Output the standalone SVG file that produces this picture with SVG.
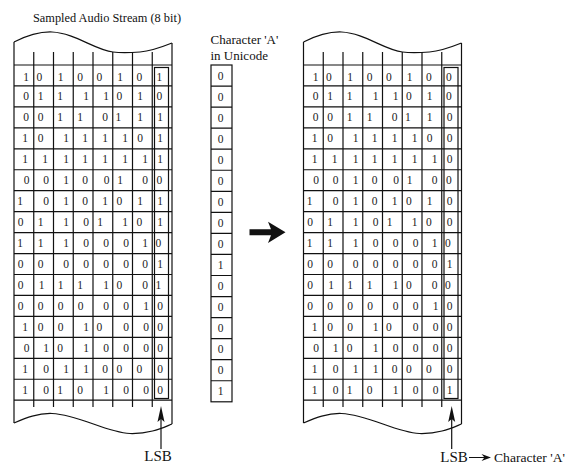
<svg xmlns="http://www.w3.org/2000/svg" xmlns:xlink="http://www.w3.org/1999/xlink" width="566" height="465" viewBox="0 0 566 465">
<style>
.ln{fill:none;stroke:#111;stroke-width:1.2}
.lnt{fill:none;stroke:#111;stroke-width:1}
.d{font-family:"Liberation Serif","Times New Roman",serif;font-size:11.5px;fill:#222;text-anchor:middle}
.lbl{font-family:"Liberation Serif","Times New Roman",serif;font-size:13px;fill:#111}
.big{font-family:"Liberation Serif","Times New Roman",serif;font-size:15px;fill:#111}
.head{fill:#111}
</style>
<defs>
<g id="frame">
<path class="ln" d="M14,42 C26,36 38,31.5 52,32 C75,33 95,50 113,52 C122,53 132,52.5 140,52 C152,51 162,47 172,43"/>
<path class="ln" d="M14,423 C26,418 38,413 52,413.5 C80,415 105,432 130,433.5 C150,434 162,428 172,424"/>
<path class="ln" d="M14,42V423M172,43V424"/>
<path class="ln" d="M33.75,52V407M53.5,52V407M73.25,52V407M93,52V407M112.75,52V407M132.5,52V407M152.25,52V407"/>
<path class="ln" d="M14,65H172M14,85.95H172M14,106.9H172M14,127.85H172M14,148.8H172M14,169.75H172M14,190.7H172M14,211.65H172M14,232.6H172M14,253.55H172M14,274.5H172M14,295.45H172M14,316.4H172M14,337.35H172M14,358.3H172M14,379.25H172M14,400.2H172"/>
<rect class="ln" x="154.5" y="67.5" width="14" height="331"/>
</g>
</defs>

<text class="lbl" x="33" y="22" font-size="12" textLength="148" lengthAdjust="spacingAndGlyphs">Sampled Audio Stream (8 bit)</text>

<g id="audio-stream">
<use xlink:href="#frame"/>
<text class="d" y="80.5" x="26 39.3 60.7 80 99.3 120 139.3 159.3">10100101</text>
<text class="d" y="100.45" x="26 40.7 60 86 106 119.3 140 159.3">01111010</text>
<text class="d" y="121.4" x="26 40.7 60 80 105 118.3 140 160">00110111</text>
<text class="d" y="142.35" x="25 40.7 66 85 105 125 140 160">10111101</text>
<text class="d" y="163.3" x="25 45 66 85 105 125 145 160">11111111</text>
<text class="d" y="184.25" x="26.7 46 66 85 106.7 120 145 159.3">00100100</text>
<text class="d" y="205.2" x="20 46 66 85 105 119.3 140 160">10101011</text>
<text class="d" y="226.15" x="20.7 40.7 66 86 100 125 139.3 160">01101101</text>
<text class="d" y="247.1" x="20 40.7 66 86 106 126 145 158.3">11100010</text>
<text class="d" y="268.05" x="20.7 40.7 66 86 106 126 145 160">00000001</text>
<text class="d" y="289" x="20.7 41.7 60.7 80 106 119.3 145 158.3">01111001</text>
<text class="d" y="309.95" x="20.7 40.7 60.7 80.7 106 126 146 160">00000010</text>
<text class="d" y="330.9" x="25 40.7 60.7 86 99.3 126 146 160">10010000</text>
<text class="d" y="351.85" x="26.7 46 60 86 106 126 146 160">01010000</text>
<text class="d" y="372.8" x="25 46 66 86 105 119.3 139.3 160">10110000</text>
<text class="d" y="393.75" x="25 46 60 80 106 126 146 160">10101000</text>
</g>

<g id="unicode-A">
<text class="lbl" x="210.5" y="43.5">Character 'A'</text>
<text class="lbl" x="210.5" y="59.5">in Unicode</text>
<rect class="ln" x="211" y="65" width="21" height="336.8"/>
<path class="ln" d="M211,86.05H232M211,107.1H232M211,128.15H232M211,149.2H232M211,170.25H232M211,191.3H232M211,212.35H232M211,233.4H232M211,254.45H232M211,275.5H232M211,296.55H232M211,317.6H232M211,338.65H232M211,359.7H232M211,380.75H232"/>
<text class="d" x="220.5" y="79.5">0</text>
<text class="d" x="220.5" y="100.6">0</text>
<text class="d" x="220.5" y="121.6">0</text>
<text class="d" x="220.5" y="142.7">0</text>
<text class="d" x="220.5" y="163.7">0</text>
<text class="d" x="220.5" y="184.8">0</text>
<text class="d" x="220.5" y="205.8">0</text>
<text class="d" x="220.5" y="226.9">0</text>
<text class="d" x="220.5" y="247.9">0</text>
<text class="d" x="220.5" y="269">1</text>
<text class="d" x="220.5" y="290">0</text>
<text class="d" x="220.5" y="311.1">0</text>
<text class="d" x="220.5" y="332.1">0</text>
<text class="d" x="220.5" y="353.2">0</text>
<text class="d" x="220.5" y="374.2">0</text>
<text class="d" x="220.5" y="395.3">1</text>
</g>

<g id="stego-stream">
<use xlink:href="#frame" transform="translate(289.5,0)"/>
<text class="d" y="80.5" x="315.5 328.8 350.2 369.5 388.8 409.5 428.8 448.8">10100100</text>
<text class="d" y="100.45" x="315.5 330.2 349.5 375.5 395.5 408.8 429.5 448.8">01111010</text>
<text class="d" y="121.4" x="315.5 330.2 349.5 369.5 394.5 407.8 429.5 449.5">00110110</text>
<text class="d" y="142.35" x="314.5 330.2 355.5 374.5 394.5 414.5 429.5 449.5">10111100</text>
<text class="d" y="163.3" x="314.5 334.5 355.5 374.5 394.5 414.5 434.5 449.5">11111110</text>
<text class="d" y="184.25" x="316.2 335.5 355.5 374.5 396.2 409.5 434.5 448.8">00100100</text>
<text class="d" y="205.2" x="309.5 335.5 355.5 374.5 394.5 408.8 429.5 449.5">10101010</text>
<text class="d" y="226.15" x="310.2 330.2 355.5 375.5 389.5 414.5 428.8 449.5">01101100</text>
<text class="d" y="247.1" x="309.5 330.2 355.5 375.5 395.5 415.5 434.5 447.8">11100010</text>
<text class="d" y="268.05" x="310.2 330.2 355.5 375.5 395.5 415.5 434.5 449.5">00000001</text>
<text class="d" y="289" x="310.2 331.2 350.2 369.5 395.5 408.8 434.5 447.8">01111000</text>
<text class="d" y="309.95" x="310.2 330.2 350.2 370.2 395.5 415.5 435.5 449.5">00000010</text>
<text class="d" y="330.9" x="314.5 330.2 350.2 375.5 388.8 415.5 435.5 449.5">10010000</text>
<text class="d" y="351.85" x="316.2 335.5 349.5 375.5 395.5 415.5 435.5 449.5">01010000</text>
<text class="d" y="372.8" x="314.5 335.5 355.5 375.5 394.5 408.8 428.8 449.5">10110000</text>
<text class="d" y="393.75" x="314.5 335.5 349.5 369.5 395.5 415.5 435.5 449.5">10101001</text>
</g>

<g id="lsb-left">
<text class="big" x="158" y="461" text-anchor="middle">LSB</text>
</g>
<g id="lsb-right">
<text class="big" x="454" y="461.5" text-anchor="middle">LSB</text>
</g>
<g id="char-A-out">
<text class="lbl" x="494" y="461.5" textLength="71" lengthAdjust="spacingAndGlyphs">Character 'A'</text>
</g>

<g id="connectors">
<path class="ln" d="M161,415V449"/>
<path class="head" d="M161,406 L164.5,422 L161,419 L157.5,422 Z"/>
<path class="ln" d="M451.7,415V449"/>
<path class="head" d="M451.7,406 L455.2,422 L451.7,419 L448.2,422 Z"/>
<path class="head" d="M249.5,229.3 H271 L268,221.7 L285.5,232.2 L268,243 L271,235.3 H249.5 Z"/>
<path class="lnt" d="M469,457.5H486"/>
<path class="head" d="M491,457.5 L481.5,454 L484.5,457.5 L481.5,461 Z"/>
</g>
</svg>
